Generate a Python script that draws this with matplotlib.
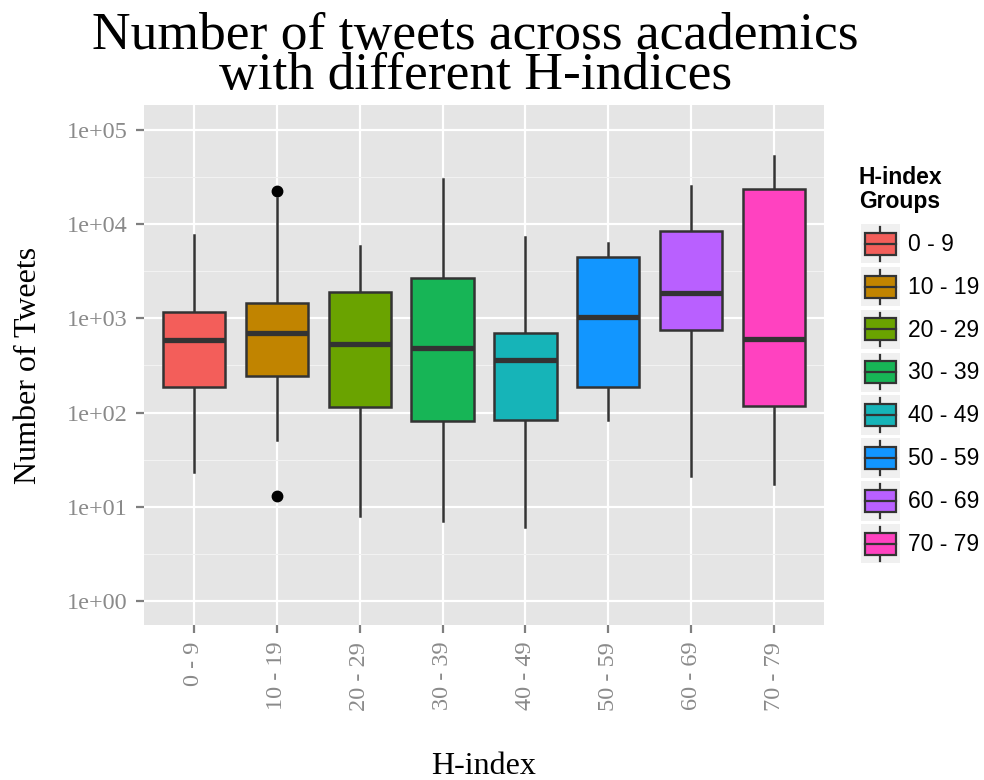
import matplotlib
matplotlib.use("Agg")
import matplotlib.pyplot as plt
from matplotlib.legend_handler import HandlerBase
from matplotlib.patches import Rectangle, Patch
from matplotlib.lines import Line2D
import numpy as np

# groups and box statistics (log scale)
groups = ["0 - 9", "10 - 19", "20 - 29", "30 - 39", "40 - 49", "50 - 59", "60 - 69", "70 - 79"]
whis_lo = [23.3, 51, 8.1, 7.1, 6.1, 83.5, 21.3, 17.4]
q1 = [185, 246, 116, 82, 83.5, 188, 752, 118]
medians = [589, 693, 534, 487, 361, 1025, 1870, 603]
q3 = [1175, 1443, 1915, 2700, 693, 4500, 8490, 23300]
whis_hi = [7640, 18700, 5850, 29800, 7330, 6340, 25300, 52600]
outliers = [[], [22400, 13.1], [], [], [], [], [], []]
colors = ["#F35E5A", "#C18400", "#6AA300", "#17B556", "#16B4B8", "#1296FF", "#B960FF", "#FF42C0"]

yticks = [1, 10, 100, 1000, 10000, 100000]
ytick_labels = ["1e+00", "1e+01", "1e+02", "1e+03", "1e+04", "1e+05"]

serif = "Liberation Serif"
sans = "Liberation Sans"
edge = "#333333"

fig = plt.figure(figsize=(9.84, 7.8), dpi=100)
ax = fig.add_axes([144 / 984, 1 - 625 / 780, 680 / 984, 520 / 780])
ax.set_facecolor("#E5E5E5")

stats = []
for i in range(len(groups)):
    stats.append(dict(med=medians[i], q1=q1[i], q3=q3[i],
                      whislo=whis_lo[i], whishi=whis_hi[i], fliers=outliers[i]))

pos = np.arange(1, len(groups) + 1)
bp = ax.bxp(stats, positions=pos, widths=0.75, patch_artist=True, showcaps=False,
            boxprops=dict(edgecolor=edge, linewidth=1.8),
            whiskerprops=dict(color=edge, linewidth=1.8),
            medianprops=dict(color=edge, linewidth=3.8, solid_capstyle="butt"),
            flierprops=dict(marker="o", markerfacecolor="black", markeredgecolor="black",
                            markersize=7.5))
for box, c in zip(bp["boxes"], colors):
    box.set_facecolor(c)
    box.set_zorder(3)
for m in bp["medians"]:
    m.set_zorder(4)

ax.set_yscale("log")
ax.set_yticks(yticks)
ax.set_yticklabels(ytick_labels)
minor = [10 ** (k + 0.5) for k in range(0, 5)]
ax.set_yticks(minor, minor=True)
ax.yaxis.set_minor_formatter(matplotlib.ticker.NullFormatter())
ax.set_xticks(pos)
ax.set_xticklabels(groups, rotation=90)
ax.set_ylim(10 ** -0.252, 10 ** 5.262)
ax.set_xlim(0.4, len(groups) + 0.6)

ax.grid(True, which="major", color="white", linewidth=1.6, zorder=0)
ax.grid(True, which="minor", axis="y", color="#F2F2F2", linewidth=0.8, zorder=0)
ax.set_axisbelow(True)
for s in ax.spines.values():
    s.set_visible(False)

ax.tick_params(axis="both", which="major", length=6, width=1.6, color="#7F7F7F",
               labelcolor="#8A8A8A", labelsize=17.5, pad=6)
ax.tick_params(axis="y", which="minor", length=0)
for lab in ax.get_xticklabels() + ax.get_yticklabels():
    lab.set_fontfamily(serif)

ax.set_xlabel("H-index", fontfamily=serif, fontsize=23)
ax.set_ylabel("Number of Tweets", fontfamily=serif, fontsize=23)
ax.xaxis.set_label_coords(0.5, -0.244)
ax.yaxis.set_label_coords(-0.148, 0.5)

fig.text(0.483, 0.985, "Number of tweets across academics\nwith different H-indices",
         ha="center", va="top", fontfamily=serif, fontsize=38.5, linespacing=0.79)


class BoxKey(HandlerBase):
    def create_artists(self, legend, orig_handle, xdescent, ydescent, width, height,
                       fontsize, trans):
        x0, y0 = -xdescent, -ydescent
        bg = Rectangle((x0, y0), width, height, facecolor="#F0F0F0", edgecolor="none",
                       transform=trans)
        cx = x0 + width / 2
        wl = Line2D([cx, cx], [y0 + 2, y0 + height - 2], color=edge, linewidth=1.6,
                    transform=trans)
        bw, bh = width * 0.82, height * 0.56
        box = Rectangle((cx - bw / 2, y0 + (height - bh) / 2), bw, bh,
                        facecolor=orig_handle.get_facecolor(), edgecolor=edge,
                        linewidth=1.6, transform=trans)
        med = Line2D([cx - bw / 2, cx + bw / 2], [y0 + height / 2] * 2, color=edge,
                     linewidth=1.6, transform=trans)
        return [bg, wl, box, med]


handles = [Patch(facecolor=c) for c in colors]
leg = fig.legend(handles, groups, loc="upper left", bbox_to_anchor=(861 / 984, 1 - 224 / 780),
                 frameon=False, handler_map={Patch: BoxKey()},
                 prop=dict(family=sans, size=16.5), handlelength=1.7, handleheight=2.27,
                 labelspacing=0.15, handletextpad=0.35, borderpad=0, borderaxespad=0)
fig.text(859 / 984, 1 - 166 / 780, "H-index\nGroups", ha="left", va="top",
         fontfamily=sans, fontsize=16.5, fontweight="bold", linespacing=1.05)

fig.savefig("out.png", dpi=100)
